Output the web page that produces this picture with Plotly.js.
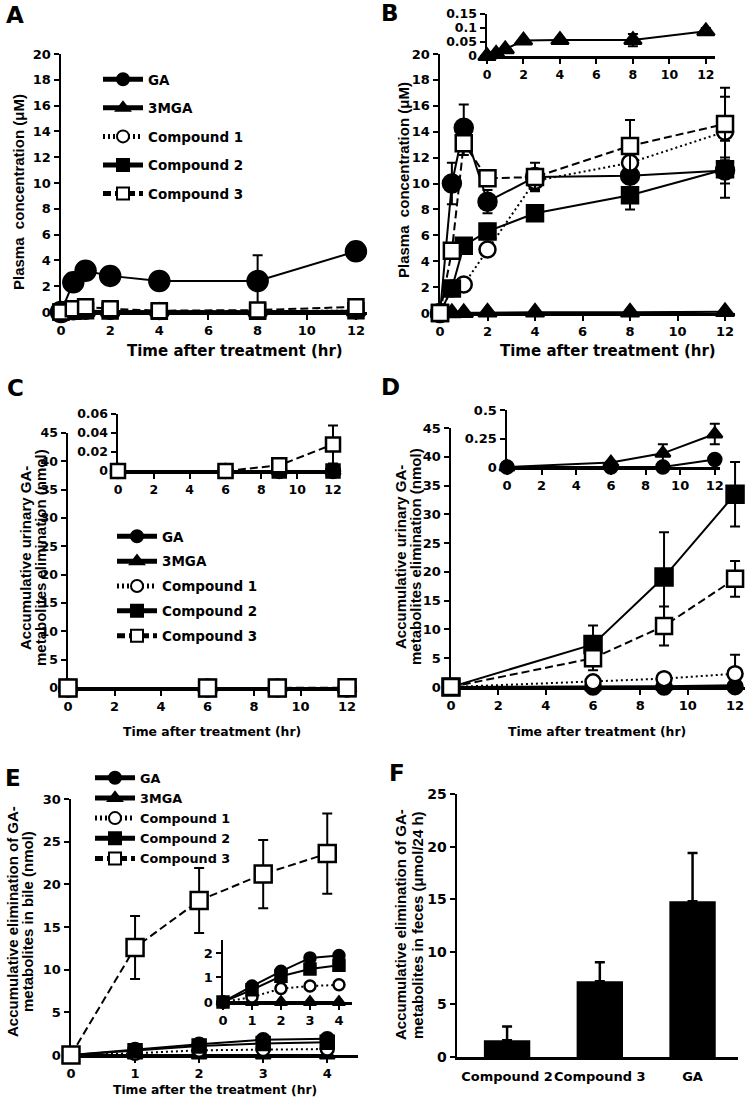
<!DOCTYPE html>
<html>
<head>
<meta charset="utf-8">
<script src="https://cdn.plot.ly/plotly-3.0.1.min.js"></script>
<style>
body{margin:0;background:#fff}
#fig text{font-weight:bold !important}
</style>
</head>
<body>
<div id="fig" style="width:749px;height:1103px"></div>
<script>
// ---- data ----
const tPlasma = [0, 0.5, 1, 2, 4, 8, 12];
const tUrine = [0, 6, 9, 12];
const tBile = [0, 1, 2, 3, 4];

// A: plasma
const A_GA = [0, 2.3, 3.2, 2.8, 2.4, 2.4, 4.7];
const A_GA_err = [0, 0.3, 0.4, 0.3, 0.2, 2.0, 0.5];
const A_3MGA = [0, 0.01, 0.02, 0.03, 0.03, 0.03, 0.05];
const A_C1 = [0, 0.02, 0.05, 0.05, 0.04, 0.05, 0.1];
const A_C2 = [0, 0.05, 0.1, 0.08, 0.05, 0.05, 0.1];
const A_C3 = [0, 0.25, 0.4, 0.25, 0.1, 0.15, 0.4];
const zeros7 = [0, 0, 0, 0, 0, 0, 0];

// B: plasma
const B_GA = [0, 10.0, 14.3, 8.6, 10.5, 10.6, 11.0];
const B_GA_err = [0, 1.6, 1.8, 0.9, 0.6, 0.6, 1.0];
const B_3MGA = [0, 0.008, 0.024, 0.055, 0.057, 0.057, 0.088];
const B_3MGA_err = [0, 0.003, 0.006, 0.005, 0.004, 0.022, 0.012];
const B_C1 = [0, 1.9, 2.2, 4.9, 10.2, 11.6, 14.0];
const B_C1_err = [0, 0.3, 0.4, 0.5, 0.7, 1.3, 2.7];
const B_C2 = [0, 1.9, 5.2, 6.3, 7.7, 9.1, 11.1];
const B_C2_err = [0, 0.3, 0.5, 0.6, 0.5, 1.1, 2.2];
const B_C3 = [0, 4.8, 13.1, 10.4, 10.5, 12.9, 14.6];
const B_C3_err = [0, 0.6, 0.9, 0.6, 1.1, 2.0, 2.8];

// C: urine
const C_GA = [0, 0, 0, 0];
const C_3MGA = [0, 0, 0, 0];
const C_C1 = [0, 0, 0, 0];
const C_C2 = [0, 0, 0, 0];
const C_C3 = [0, 0, 0.006, 0.028];
const C_C3_err = [0, 0, 0.002, 0.02];
const zeros4 = [0, 0, 0, 0];

// D: urine
const D_GA = [0, 0, 0, 0.065];
const D_GA_err = [0, 0, 0, 0.01];
const D_3MGA = [0, 0.04, 0.12, 0.29];
const D_3MGA_err = [0, 0.01, 0.08, 0.09];
const D_C1 = [0, 0.9, 1.45, 2.3];
const D_C1_err = [0, 0.6, 1.0, 3.3];
const D_C2 = [0, 7.4, 19.1, 33.5];
const D_C2_err = [0, 3.3, 7.8, 5.6];
const D_C3 = [0, 5.0, 10.6, 18.8];
const D_C3_err = [0, 2.1, 3.4, 3.1];

// E: bile
const E_GA = [0, 0.65, 1.25, 1.8, 1.9];
const E_3MGA = [0, 0, 0, 0, 0];
const E_C1 = [0, 0.2, 0.55, 0.65, 0.7];
const E_C2 = [0, 0.5, 1.05, 1.35, 1.5];
const E_C3 = [0, 12.6, 18.1, 21.2, 23.6];
const E_C3_err = [0, 3.7, 3.8, 4.0, 4.7];
const zeros5 = [0, 0, 0, 0, 0];

// F: feces
const F_names = ['Compound 2', 'Compound 3', 'GA'];
const F_vals = [1.6, 7.2, 14.8];
const F_err = [1.3, 1.8, 4.6];

// ---- helpers ----
const W = 749, H = 1103;
const FONT = 'DejaVu Sans';

function xdom(a, b) { return [a / W, b / W]; }
function ydom(top, bottom) { return [1 - bottom / H, 1 - top / H]; }

function axis(dom, range, dtick, anchor, size) {
    return {
        domain: dom, range: range, dtick: dtick, tick0: 0, anchor: anchor,
        showline: true, linewidth: 2.5, linecolor: 'black',
        ticks: 'outside', ticklen: 5, tickwidth: 2, tickcolor: 'black',
        showgrid: false, zeroline: false, layer: 'below traces', fixedrange: true,
        tickfont: {family: FONT, size: size || 13, color: 'black', weight: 700},
    };
}

const styles = {
    'GA': {symbol: 'circle', fill: 'black', dash: 'solid'},
    '3MGA': {symbol: 'triangle-up', fill: 'black', dash: 'solid'},
    'Compound 1': {symbol: 'circle', fill: 'white', dash: '2px,3px'},
    'Compound 2': {symbol: 'square', fill: 'black', dash: 'solid'},
    'Compound 3': {symbol: 'square', fill: 'white', dash: '8px,4px'},
};

function series(name, x, y, err, xa, ya, size, legend) {
    const s = styles[name];
    let t = {
        type: 'scatter', mode: 'lines+markers', name: name,
        x: x, y: y, xaxis: xa, yaxis: ya, cliponaxis: false,
        line: {color: 'black', width: 2, dash: s.dash},
        marker: {symbol: s.symbol, size: size, color: s.fill, line: {color: 'black', width: 2.5}},
        error_y: {type: 'data', array: err, visible: true, color: 'black', thickness: 2, width: 5},
        showlegend: !!legend,
    };
    if (legend) {
        t.legend = legend;
        t.legendgroup = legend + name;
    }
    return t;
}

let data = [];

// A
data.push(series('GA', tPlasma, A_GA, A_GA_err, 'x', 'y', 20, 'legend'));
data.push(series('3MGA', tPlasma, A_3MGA, zeros7, 'x', 'y', 16, 'legend'));
data.push(series('Compound 1', tPlasma, A_C1, zeros7, 'x', 'y', 15, 'legend'));
data.push(series('Compound 2', tPlasma, A_C2, zeros7, 'x', 'y', 15, 'legend'));
data.push(series('Compound 3', tPlasma, A_C3, zeros7, 'x', 'y', 15, 'legend'));

// B main + inset
data.push(series('GA', tPlasma, B_GA, B_GA_err, 'x2', 'y2', 18));
data.push(series('3MGA', tPlasma, B_3MGA, B_3MGA_err, 'x2', 'y2', 16));
data.push(series('Compound 1', tPlasma, B_C1, B_C1_err, 'x2', 'y2', 16));
data.push(series('Compound 2', tPlasma, B_C2, B_C2_err, 'x2', 'y2', 16));
data.push(series('Compound 3', tPlasma, B_C3, B_C3_err, 'x2', 'y2', 16));
data.push(series('3MGA', tPlasma, B_3MGA, B_3MGA_err, 'x3', 'y3', 15));

// C main + inset
data.push(series('GA', tUrine, C_GA, zeros4, 'x4', 'y4', 17, 'legend2'));
data.push(series('3MGA', tUrine, C_3MGA, zeros4, 'x4', 'y4', 16, 'legend2'));
data.push(series('Compound 1', tUrine, C_C1, zeros4, 'x4', 'y4', 16, 'legend2'));
data.push(series('Compound 2', tUrine, C_C2, zeros4, 'x4', 'y4', 16, 'legend2'));
data.push(series('Compound 3', tUrine, C_C3, C_C3_err, 'x4', 'y4', 17, 'legend2'));
data.push(series('GA', tUrine, C_GA, zeros4, 'x5', 'y5', 14));
data.push(series('3MGA', tUrine, C_3MGA, zeros4, 'x5', 'y5', 13));
data.push(series('Compound 1', tUrine, C_C1, zeros4, 'x5', 'y5', 13));
data.push(series('Compound 2', tUrine, C_C2, zeros4, 'x5', 'y5', 13));
data.push(series('Compound 3', tUrine, C_C3, C_C3_err, 'x5', 'y5', 14));

// D main + inset
data.push(series('GA', tUrine, D_GA, D_GA_err, 'x6', 'y6', 15));
data.push(series('3MGA', tUrine, D_3MGA, D_3MGA_err, 'x6', 'y6', 14));
data.push(series('Compound 1', tUrine, D_C1, D_C1_err, 'x6', 'y6', 15));
data.push(series('Compound 2', tUrine, D_C2, D_C2_err, 'x6', 'y6', 17));
data.push(series('Compound 3', tUrine, D_C3, D_C3_err, 'x6', 'y6', 16));
data.push(series('GA', tUrine, D_GA, D_GA_err, 'x7', 'y7', 13));
data.push(series('3MGA', tUrine, D_3MGA, D_3MGA_err, 'x7', 'y7', 13));

// E main + inset
data.push(series('GA', tBile, E_GA, zeros5, 'x8', 'y8', 13, 'legend3'));
data.push(series('3MGA', tBile, E_3MGA, zeros5, 'x8', 'y8', 13, 'legend3'));
data.push(series('Compound 1', tBile, E_C1, zeros5, 'x8', 'y8', 13, 'legend3'));
data.push(series('Compound 2', tBile, E_C2, zeros5, 'x8', 'y8', 13, 'legend3'));
data.push(series('Compound 3', tBile, E_C3, E_C3_err, 'x8', 'y8', 17, 'legend3'));
data.push(series('GA', tBile, E_GA, zeros5, 'x9', 'y9', 11));
data.push(series('3MGA', tBile, E_3MGA, zeros5, 'x9', 'y9', 11));
data.push(series('Compound 1', tBile, E_C1, zeros5, 'x9', 'y9', 11));
data.push(series('Compound 2', tBile, E_C2, zeros5, 'x9', 'y9', 11));

// F bars
data.push({
    type: 'bar', x: F_names, y: F_vals, xaxis: 'x10', yaxis: 'y10',
    marker: {color: 'black'}, width: 0.5, showlegend: false,
    error_y: {type: 'data', symmetric: false, array: F_err, arrayminus: [0, 0, 0],
              color: 'black', thickness: 2.5, width: 5},
});

function legendBox(x, y, size, gap) {
    return {
        x: x / W, y: 1 - y / H, xanchor: 'left', yanchor: 'top',
        bgcolor: 'rgba(0,0,0,0)', borderwidth: 0,
        font: {family: FONT, size: size, color: 'black', weight: 'bold'},
        traceorder: 'grouped', tracegroupgap: gap, itemsizing: 'constant', itemwidth: 40,
    };
}

function note(text, x, y, size, angle, family) {
    return {
        text: text, x: x / W, y: 1 - y / H, xref: 'paper', yref: 'paper',
        xanchor: 'center', yanchor: 'middle', showarrow: false, textangle: angle || 0,
        font: {family: family || FONT, size: size, color: 'black', weight: 'bold'},
    };
}

const YT = 'Liberation Sans';
let annotations = [
    note('A', 15, 15, 23), note('B', 390, 13, 23), note('C', 15, 388, 23),
    note('D', 390, 387, 23), note('E', 13, 778, 23), note('F', 397, 773, 23),
    note('Time after treatment (hr)', 235, 351, 15),
    note('Time after treatment (hr)', 608, 351, 15),
    note('Time after treatment (hr)', 212, 731, 12.4),
    note('Time after treatment (hr)', 597, 731, 12.4),
    note('Time after the treatment (hr)', 215, 1090, 12.3),
    note('Plasma\u00a0 concentration (\u03bcM)', 18, 192, 15, -90, YT),
    note('Plasma\u00a0 concentration (\u03bcM)', 403, 180, 15, -90, YT),
    note('Accumulative urinary GA-', 25, 558, 15, -90, YT),
    note('metabolites elimination (nmol)', 40, 558, 15, -90, YT),
    note('Accumulative urinary GA-', 400, 557, 15, -90, YT),
    note('metabolites elimination (nmol)', 415, 557, 15, -90, YT),
    note('Accumulative elimination of GA-', 12, 922, 15, -90, YT),
    note('metabolites in bile (nmol)', 27, 922, 15, -90, YT),
    note('Accumulative elimination of GA-', 400, 925, 15, -90, YT),
    note('metabolites in feces (\u03bcmol/24 h)', 417, 925, 15, -90, YT),
];

let layout = {
    width: W, height: H, autosize: false,
    margin: {l: 0, r: 0, t: 0, b: 0},
    paper_bgcolor: 'white', plot_bgcolor: 'rgba(0,0,0,0)',
    font: {family: FONT, color: 'black', size: 13, weight: 700},
    // A
    xaxis: axis(xdom(61, 367), [0, 12.45], 2, 'y'),
    yaxis: axis(ydom(54, 312), [0, 20], 2, 'x'),
    // B
    xaxis2: axis(xdom(440, 735), [0, 12.42], 2, 'y2'),
    yaxis2: axis(ydom(54, 313), [0, 20], 2, 'x2'),
    xaxis3: axis(xdom(487, 715), [0, 12.5], 2, 'y3', 12.5),
    yaxis3: axis(ydom(14, 56), [0, 0.15], 0.05, 'x3', 12.5),
    // C
    xaxis4: axis(xdom(68, 355), [0, 12.34], 2, 'y4'),
    yaxis4: axis(ydom(433, 688), [0, 45], 5, 'x4', 12.5),
    xaxis5: axis(xdom(118, 340), [0, 12.39], 2, 'y5', 12.5),
    yaxis5: axis(ydom(414, 471), [0, 0.06], 0.02, 'x5', 12.5),
    // D
    xaxis6: axis(xdom(451, 745), [0, 12.42], 2, 'y6'),
    yaxis6: axis(ydom(428, 687), [0, 45], 5, 'x6'),
    xaxis7: axis(xdom(507, 720), [0, 12.3], 2, 'y7'),
    yaxis7: axis(ydom(410, 467), [0, 0.5], 0.25, 'x7'),
    // E
    xaxis8: axis(xdom(71, 358), [0, 4.48], 1, 'y8'),
    yaxis8: axis(ydom(799, 1055), [0, 30], 5, 'x8'),
    xaxis9: axis(xdom(223, 352), [0, 4.45], 1, 'y9'),
    yaxis9: axis(ydom(940, 1002), [0, 2.53], 1, 'x9'),
    // F
    xaxis10: Object.assign(axis(xdom(457, 738), [-0.54, 2.49], 1, 'y10'),
                           {ticks: '', type: 'category', tickangle: 0, ticklabelstandoff: 6}),
    yaxis10: axis(ydom(794, 1057), [0, 25], 5, 'x10', 14),
    legend: legendBox(98, 64, 13.5, 8),
    legend2: legendBox(112, 521, 13.5, 4.3),
    legend3: legendBox(90, 763, 12.8, 0.5),
    annotations: annotations,
};

let config = {responsive: false, displayModeBar: false, staticPlot: true};

Plotly.newPlot('fig', data, layout, config).then(function () {
    // make sure every label is drawn bold, like the printed figure
    document.querySelectorAll('#fig text').forEach(function (t) {
        t.style.fontWeight = 'bold';
    });
});
</script>
</body>
</html>
